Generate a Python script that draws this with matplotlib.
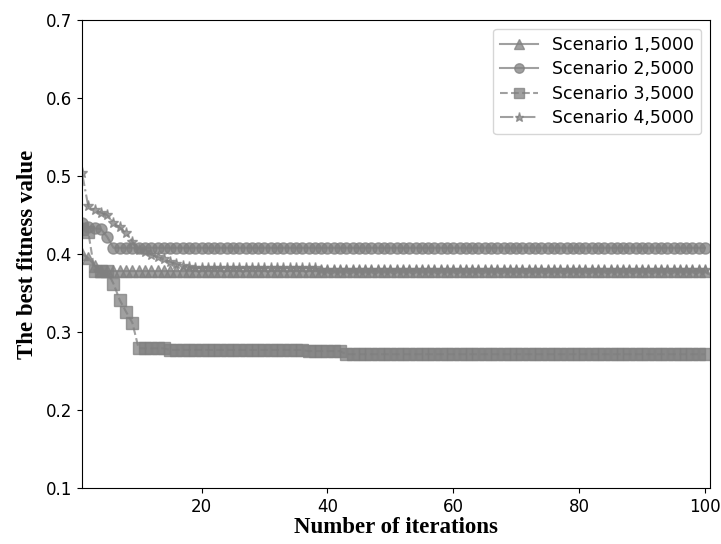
import matplotlib
matplotlib.use("Agg")
import matplotlib.pyplot as plt
import numpy as np

plt.rcParams["font.family"] = ["DejaVu Sans"]

iterations = list(range(1, 101))

# Scenario 1 (triangles)
s1_early = [0.400, 0.395, 0.385]
s1_plateau = 0.378
scenario1 = s1_early + [s1_plateau] * (100 - len(s1_early))

# Scenario 2 (circles)
s2_early = [0.440, 0.434, 0.433, 0.432, 0.422]
s2_plateau = 0.408
scenario2 = s2_early + [s2_plateau] * (100 - len(s2_early))

# Scenario 3 (squares)
s3_early = [0.432, 0.428, 0.378, 0.378, 0.378, 0.362, 0.341, 0.326, 0.312]
scenario3 = (s3_early + [0.279] * 5 + [0.277] * 22 + [0.2755] * 6
             + [0.2715] * (100 - len(s3_early) - 33))

# Scenario 4 (stars)
s4_early = [0.504, 0.461, 0.457, 0.453, 0.450, 0.440, 0.434, 0.427, 0.416,
            0.405, 0.402, 0.399, 0.396, 0.393, 0.390, 0.387, 0.385, 0.383]
scenario4 = s4_early + [0.382] * 20 + [0.380] * (100 - len(s4_early) - 20)

labels = ["Scenario 1,5000", "Scenario 2,5000", "Scenario 3,5000", "Scenario 4,5000"]

fig = plt.figure(figsize=(7.21, 5.44), dpi=100)
ax = fig.add_axes([82 / 721, 1 - 488 / 544, (710 - 82) / 721, (488 - 20) / 544])

common = dict(color="gray", alpha=0.75, markersize=8, linewidth=1.5,
              markeredgewidth=1.0)
ax.plot(iterations, scenario1, linestyle="-", marker="^", label=labels[0], **common)
ax.plot(iterations, scenario2, linestyle="-", marker="o", label=labels[1], **common)
ax.plot(iterations, scenario3, linestyle="--", marker="s", label=labels[2], **common)
ax.plot(iterations, scenario4, linestyle="-.", marker="*", label=labels[3], **common)

ax.set_xlim(1, 100.8)
ax.set_ylim(0.1, 0.7)
ax.set_xticks([20, 40, 60, 80, 100])
ax.set_yticks([0.1, 0.2, 0.3, 0.4, 0.5, 0.6, 0.7])
ax.tick_params(labelsize=12)

ax.set_xlabel("Number of iterations", fontfamily="Liberation Serif",
              fontweight="bold", fontsize=16.5, labelpad=1)
ax.set_ylabel("The best fitness value", fontfamily="Liberation Serif",
              fontweight="bold", fontsize=16.5, labelpad=6)

ax.legend(loc="upper right", fontsize=12.5, labelspacing=0.38,
          handlelength=2.2, markerscale=0.85)

fig.savefig("out.png", dpi=100)
